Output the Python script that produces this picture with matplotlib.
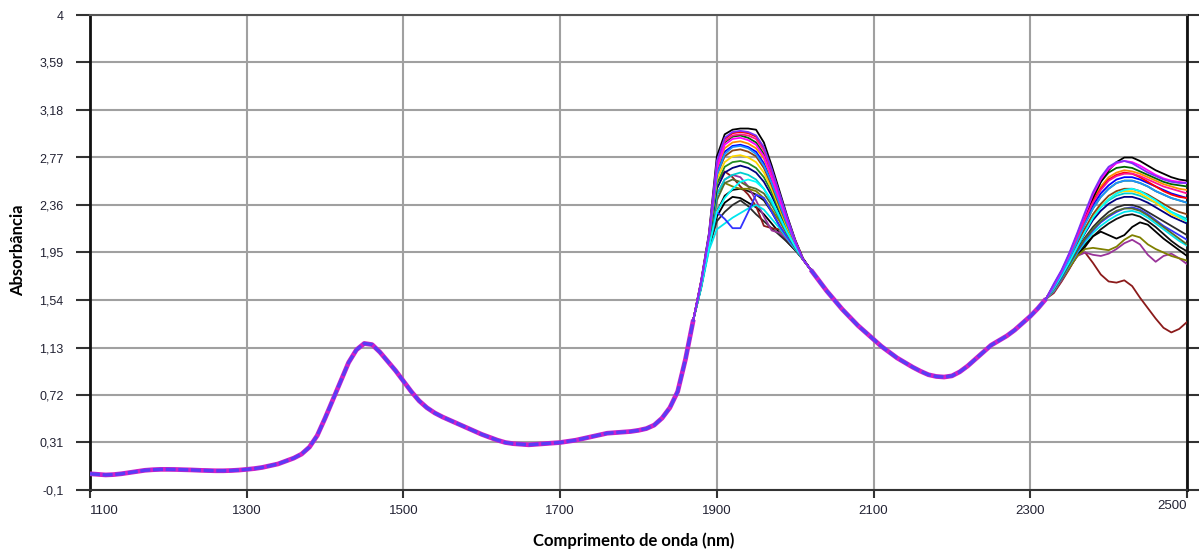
import numpy as np
import matplotlib
matplotlib.use("Agg")
import matplotlib.pyplot as plt
from matplotlib.transforms import ScaledTranslation

# comprimentos de onda (nm) de cada trecho
wl_lo = np.arange(1100, 1871, 10)
wl_peak = np.arange(1880, 2011, 10)
wl_mid = np.arange(2020, 2321, 10)
wl_tail = np.arange(2330, 2501, 10)

# trecho comum 1100-1870 nm
base_lo = [0.04, 0.035, 0.03, 0.033, 0.04, 0.05, 0.06, 0.07, 0.075, 0.078,
           0.078, 0.077, 0.075, 0.073, 0.07, 0.068, 0.066, 0.066, 0.068, 0.072,
           0.078, 0.085, 0.095, 0.11, 0.125, 0.15, 0.175, 0.21, 0.27, 0.37,
           0.52, 0.68, 0.84, 1.0, 1.11, 1.165, 1.155, 1.09, 1.01, 0.93,
           0.84, 0.75, 0.67, 0.61, 0.565, 0.53, 0.50, 0.47, 0.44, 0.41,
           0.38, 0.355, 0.33, 0.31, 0.30, 0.295, 0.29, 0.295, 0.30, 0.305,
           0.31, 0.32, 0.33, 0.345, 0.36, 0.375, 0.39, 0.395, 0.40, 0.405,
           0.415, 0.43, 0.46, 0.52, 0.61, 0.75, 1.03, 1.37]

# trecho comum 2020-2320 nm
base_mid = [1.80, 1.71, 1.62, 1.54, 1.46, 1.39, 1.32, 1.26, 1.20, 1.14,
            1.09, 1.04, 1.0, 0.96, 0.925, 0.895, 0.88, 0.875, 0.885, 0.92,
            0.97, 1.03, 1.09, 1.15, 1.19, 1.23, 1.28, 1.34, 1.40, 1.47, 1.55]

colors = ['#111111', '#000000', '#2b2b2b', '#8B1A1A', '#993399', '#808000',
          '#00E5EE', '#3333FF', '#556B2F', '#00CED1', '#000080', '#228B22',
          '#FFD700', '#8B4513', '#0000FF', '#FF8C00', '#00FFFF', '#006400',
          '#000000', '#FF0000', '#FF1493', '#1E90FF', '#FF00FF', '#7B2FF7']

# banda 1880-2010 nm, uma lista por amostra
peaks = [
    [1.66, 2.01, 2.30, 2.44, 2.49, 2.50, 2.48, 2.45, 2.40, 2.30, 2.18, 2.07, 1.98, 1.89],
    [1.65, 2.00, 2.26, 2.38, 2.43, 2.42, 2.38, 2.34, 2.28, 2.20, 2.12, 2.04, 1.97, 1.89],
    [1.65, 1.99, 2.22, 2.30, 2.36, 2.40, 2.35, 2.28, 2.22, 2.16, 2.10, 2.04, 1.97, 1.89],
    [1.68, 2.06, 2.55, 2.65, 2.60, 2.52, 2.45, 2.35, 2.18, 2.16, 2.15, 2.07, 1.98, 1.89],
    [1.67, 2.04, 2.45, 2.58, 2.62, 2.60, 2.52, 2.40, 2.26, 2.14, 2.12, 2.06, 1.98, 1.89],
    [1.67, 2.04, 2.45, 2.55, 2.52, 2.50, 2.50, 2.48, 2.42, 2.32, 2.22, 2.10, 1.99, 1.89],
    [1.64, 1.97, 2.15, 2.20, 2.25, 2.29, 2.33, 2.36, 2.32, 2.24, 2.16, 2.07, 1.98, 1.89],
    [1.66, 2.02, 2.30, 2.24, 2.16, 2.16, 2.30, 2.45, 2.42, 2.30, 2.18, 2.08, 1.99, 1.89],
    [1.67, 2.03, 2.40, 2.55, 2.58, 2.56, 2.52, 2.50, 2.46, 2.36, 2.24, 2.11, 1.99, 1.89],
    [1.67, 2.04, 2.45, 2.58, 2.62, 2.64, 2.62, 2.58, 2.50, 2.38, 2.25, 2.12, 2.00, 1.89],
    [1.68, 2.05, 2.50, 2.64, 2.68, 2.70, 2.68, 2.64, 2.56, 2.44, 2.29, 2.14, 2.01, 1.89],
    [1.68, 2.06, 2.54, 2.69, 2.73, 2.74, 2.72, 2.68, 2.60, 2.47, 2.31, 2.15, 2.02, 1.89],
    [1.68, 2.07, 2.58, 2.73, 2.78, 2.79, 2.77, 2.73, 2.64, 2.50, 2.33, 2.16, 2.02, 1.89],
    [1.69, 2.08, 2.62, 2.78, 2.83, 2.84, 2.82, 2.78, 2.68, 2.53, 2.35, 2.18, 2.03, 1.89],
    [1.69, 2.08, 2.64, 2.82, 2.87, 2.88, 2.86, 2.82, 2.72, 2.56, 2.38, 2.20, 2.04, 1.89],
    [1.69, 2.09, 2.67, 2.85, 2.90, 2.91, 2.89, 2.85, 2.76, 2.59, 2.40, 2.21, 2.04, 1.89],
    [1.66, 2.00, 2.30, 2.42, 2.50, 2.56, 2.58, 2.56, 2.50, 2.40, 2.26, 2.12, 2.00, 1.89],
    [1.70, 2.10, 2.70, 2.90, 2.95, 2.96, 2.94, 2.90, 2.80, 2.62, 2.42, 2.22, 2.05, 1.89],
    [1.71, 2.12, 2.78, 2.97, 3.01, 3.02, 3.02, 3.01, 2.90, 2.70, 2.48, 2.26, 2.06, 1.90],
    [1.70, 2.10, 2.72, 2.93, 2.98, 2.99, 2.98, 2.95, 2.85, 2.66, 2.45, 2.24, 2.05, 1.89],
    [1.70, 2.10, 2.70, 2.91, 2.96, 2.97, 2.96, 2.93, 2.83, 2.64, 2.44, 2.23, 2.05, 1.89],
    [1.69, 2.08, 2.62, 2.80, 2.86, 2.87, 2.85, 2.80, 2.70, 2.55, 2.37, 2.19, 2.03, 1.89],
    [1.70, 2.09, 2.68, 2.88, 2.93, 2.94, 2.92, 2.88, 2.78, 2.60, 2.41, 2.22, 2.04, 1.89],
    [1.70, 2.11, 2.74, 2.94, 2.99, 3.00, 2.99, 2.96, 2.86, 2.67, 2.46, 2.25, 2.05, 1.89],
]

# final do espectro 2330-2500 nm
tails = [
    [1.62, 1.72, 1.83, 1.93, 2.02, 2.09, 2.15, 2.20, 2.24, 2.27, 2.28, 2.26, 2.22, 2.17, 2.11, 2.05, 2.00, 1.96],
    [1.62, 1.72, 1.82, 1.92, 2.00, 2.09, 2.13, 2.10, 2.07, 2.10, 2.17, 2.21, 2.19, 2.13, 2.07, 2.02, 1.97, 1.92],
    [1.63, 1.74, 1.86, 1.98, 2.08, 2.17, 2.24, 2.30, 2.34, 2.36, 2.36, 2.34, 2.30, 2.26, 2.22, 2.18, 2.14, 2.10],
    [1.60, 1.70, 1.81, 1.93, 1.95, 1.86, 1.76, 1.70, 1.69, 1.71, 1.66, 1.56, 1.47, 1.38, 1.30, 1.26, 1.29, 1.35],
    [1.61, 1.71, 1.82, 1.92, 1.95, 1.93, 1.92, 1.94, 1.98, 2.03, 2.06, 2.02, 1.93, 1.87, 1.92, 1.94, 1.90, 1.85],
    [1.62, 1.72, 1.82, 1.92, 1.98, 1.99, 1.98, 1.97, 2.00, 2.06, 2.10, 2.08, 2.02, 1.98, 1.95, 1.92, 1.90, 1.88],
    [1.62, 1.73, 1.84, 1.95, 2.04, 2.12, 2.18, 2.23, 2.27, 2.30, 2.31, 2.29, 2.25, 2.20, 2.15, 2.10, 2.05, 2.01],
    [1.63, 1.73, 1.85, 1.96, 2.06, 2.14, 2.21, 2.26, 2.30, 2.33, 2.34, 2.32, 2.28, 2.23, 2.18, 2.14, 2.10, 2.06],
    [1.63, 1.74, 1.85, 1.97, 2.07, 2.15, 2.22, 2.27, 2.31, 2.33, 2.33, 2.31, 2.27, 2.22, 2.17, 2.12, 2.07, 2.02],
    [1.64, 1.75, 1.88, 2.02, 2.14, 2.25, 2.34, 2.40, 2.44, 2.46, 2.46, 2.44, 2.41, 2.38, 2.34, 2.30, 2.27, 2.24],
    [1.64, 1.75, 1.87, 2.00, 2.12, 2.23, 2.31, 2.37, 2.41, 2.43, 2.43, 2.41, 2.38, 2.34, 2.30, 2.26, 2.23, 2.20],
    [1.65, 1.77, 1.90, 2.05, 2.20, 2.33, 2.43, 2.50, 2.55, 2.57, 2.57, 2.55, 2.52, 2.48, 2.45, 2.42, 2.40, 2.38],
    [1.64, 1.76, 1.88, 2.02, 2.15, 2.26, 2.35, 2.41, 2.46, 2.48, 2.48, 2.46, 2.42, 2.38, 2.33, 2.28, 2.25, 2.22],
    [1.64, 1.76, 1.89, 2.03, 2.16, 2.28, 2.37, 2.44, 2.48, 2.50, 2.50, 2.48, 2.45, 2.41, 2.37, 2.33, 2.30, 2.28],
    [1.65, 1.77, 1.91, 2.07, 2.22, 2.36, 2.46, 2.53, 2.58, 2.60, 2.60, 2.58, 2.55, 2.52, 2.49, 2.46, 2.44, 2.42],
    [1.66, 1.78, 1.92, 2.08, 2.25, 2.40, 2.52, 2.60, 2.64, 2.66, 2.65, 2.63, 2.60, 2.57, 2.54, 2.52, 2.50, 2.49],
    [1.64, 1.75, 1.87, 2.00, 2.13, 2.25, 2.34, 2.41, 2.46, 2.49, 2.50, 2.48, 2.44, 2.40, 2.35, 2.30, 2.26, 2.22],
    [1.67, 1.79, 1.93, 2.10, 2.27, 2.43, 2.56, 2.64, 2.68, 2.69, 2.68, 2.65, 2.62, 2.59, 2.56, 2.54, 2.53, 2.52],
    [1.66, 1.78, 1.92, 2.08, 2.25, 2.42, 2.56, 2.66, 2.73, 2.77, 2.77, 2.74, 2.70, 2.66, 2.63, 2.60, 2.58, 2.57],
    [1.66, 1.78, 1.92, 2.08, 2.24, 2.39, 2.50, 2.58, 2.62, 2.64, 2.63, 2.60, 2.56, 2.52, 2.48, 2.45, 2.43, 2.42],
    [1.66, 1.78, 1.92, 2.08, 2.24, 2.38, 2.49, 2.57, 2.61, 2.63, 2.63, 2.61, 2.58, 2.55, 2.52, 2.50, 2.48, 2.46],
    [1.65, 1.77, 1.90, 2.05, 2.20, 2.33, 2.43, 2.50, 2.55, 2.57, 2.57, 2.55, 2.52, 2.48, 2.45, 2.42, 2.40, 2.38],
    [1.67, 1.79, 1.94, 2.11, 2.28, 2.45, 2.58, 2.67, 2.72, 2.74, 2.73, 2.70, 2.66, 2.62, 2.59, 2.57, 2.56, 2.55],
    [1.68, 1.80, 1.95, 2.12, 2.30, 2.47, 2.60, 2.69, 2.73, 2.74, 2.72, 2.68, 2.64, 2.61, 2.58, 2.56, 2.55, 2.55],
]

xticks = [1100, 1300, 1500, 1700, 1900, 2100, 2300, 2500]
yticks = [-0.1, 0.31, 0.72, 1.13, 1.54, 1.95, 2.36, 2.77, 3.18, 3.59, 4]
ylabels = ['-0,1', '0,31', '0,72', '1,13', '1,54', '1,95', '2,36', '2,77', '3,18', '3,59', '4']

assert len(base_lo) == len(wl_lo) and len(base_mid) == len(wl_mid)

wl = np.concatenate([wl_lo, wl_peak, wl_mid, wl_tail])

fig = plt.figure(figsize=(11.99, 5.52), dpi=100)
ax = fig.add_axes([90/1199, 62/552, 1097/1199, 475/552])

for i in range(len(peaks)):
    y = list(base_lo) + peaks[i] + list(base_mid) + tails[i]
    ax.plot(wl, y, color=colors[i], lw=1.3, zorder=3)

# trechos comuns mais grossos (todas as amostras sobrepostas)
for xs, ys in [(wl_lo, base_lo), (wl_mid, base_mid)]:
    ax.plot(xs, ys, color='#D020C8', lw=3.4, zorder=4, solid_capstyle='butt')
    ax.plot(xs, ys, color='#5B3BF5', lw=2.4, zorder=5, ls=(0, (3, 0.8)))

ax.set_xlim(1100, 2500)
ax.set_ylim(-0.1, 4)
ax.set_xticks(xticks)
ax.set_xticklabels([str(t) for t in xticks])
ax.set_yticks(yticks)
ax.set_yticklabels(ylabels)
ax.grid(True, color='#a0a0a0', lw=1.5)
ax.set_axisbelow(True)

for s in ['left', 'right']:
    ax.spines[s].set_color('#111111')
    ax.spines[s].set_linewidth(2)
ax.spines['bottom'].set_color('#333333')
ax.spines['bottom'].set_linewidth(1.5)
ax.spines['top'].set_color('#555555')
ax.spines['top'].set_linewidth(1.5)

ax.tick_params(axis='y', direction='out', length=10, width=1.5, color='#333333',
               labelsize=9, pad=9, right=True, labelcolor='#222233')
ax.tick_params(axis='x', direction='out', length=6, width=1.5, color='#333333',
               labelsize=9.5, pad=5, labelcolor='#222233')
for lab in ax.get_yticklabels() + ax.get_xticklabels():
    lab.set_family('Liberation Sans')
xl = ax.get_xticklabels()
xl[0].set_ha('left')
xl[-1].set_ha('right')
xl[-1].set_transform(xl[-1].get_transform() + ScaledTranslation(0, 4/72, fig.dpi_scale_trans))

fig.text(634/1199, 1 - 541/552, 'Comprimento de onda (nm)', ha='center', va='center',
         fontsize=12, weight='bold', family='Lato')
fig.text(18/1199, 1 - 250/552, 'Absorbância', ha='center', va='center', rotation=90,
         fontsize=12, weight='bold', family='Lato')

fig.savefig('out.png', dpi=100)
